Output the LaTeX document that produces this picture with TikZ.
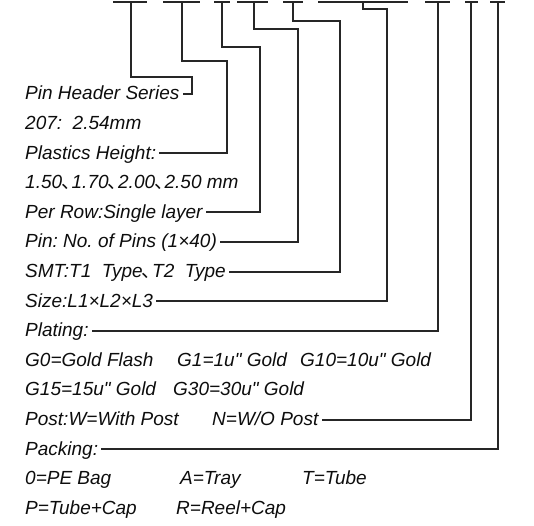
\documentclass[tikz,border=0pt]{standalone}
\usepackage{fontspec}
\setmainfont{Liberation Sans}[Ligatures=TeXOff]
\newfontfamily\cjk{Noto Sans CJK SC}
\newcommand{\dn}{\hbox to 0.5em{\hskip-0.04em{\cjk 、}\hss}}
\frenchspacing

\begin{document}
\begin{tikzpicture}[x=1pt, y=-1pt,
    lead/.style={draw=black!85, line width=2pt},
    lbl/.style={anchor=west, inner xsep=3pt, inner ysep=0pt, text height=13.6pt, text depth=2pt,
        text=black!95, font=\fontsize{19}{19}\selectfont\itshape}]
    \useasboundingbox (0,0) rectangle (534,525);

    % label rows
    \foreach \nm/\txt [count=\i] in {ser/{Pin Header Series}, pitch/{207:\ \ 2.54mm},
        plh/{Plastics Height:}, hts/{1.50\dn 1.70\dn 2.00\dn 2.50 mm},
        row/{Per Row:Single layer}, pin/{Pin: No. of Pins (1×40)},
        smt/{SMT:T1\ \ Type\dn T2\ \ Type}, size/{Size:L1×L2×L3}, plat/{Plating:},
        g0/{G0=Gold Flash}, g15/{G15=15u" Gold}, post/{Post:W=With Post},
        pack/{Packing:}, pe/{0=PE Bag}, ptc/{P=Tube+Cap}}
        \node[lbl] (\nm) at (22, {94+29.6*(\i-1)}) {\txt};

    \node[lbl] (g1) at (174, 360.4) {G1=1u" Gold};
    \node[lbl] (g10) at (297, 360.4) {G10=10u" Gold};
    \node[lbl] (g30) at (170, 390) {G30=30u" Gold};
    \node[lbl] (nopost) at (209, 419.6) {N=W/O Post};
    \node[lbl] (tray) at (177, 478.8) {A=Tray};
    \node[lbl] (tube) at (299, 478.8) {T=Tube};
    \node[lbl] (reel) at (173, 508.4) {R=Reel+Cap};

    % code bars
    \foreach \a/\b/\m [count=\i] in {113/147/131, 163/200/182, 214/230/222, 237/268/254,
        283/303/293, 318/408/363, 425/450/438, 465/478/471, 490/505/498} {
        \draw[lead] (\a,2) -- (\b,2);
        \coordinate (b\i) at (\m,2);
    }

    \coordinate (k1) at (192,77);
    \coordinate (k2) at (227,61);
    \coordinate (k3) at (260,47);
    \coordinate (k4) at (298,29);
    \coordinate (k5) at (340,21);
    \coordinate (k6) at (387,9);

    \draw[lead] (b1) |- (k1) |- (ser.east);
    \draw[lead] (b2) |- (k2) |- (plh.east);
    \draw[lead] (b3) |- (k3) |- (row.east);
    \draw[lead] (b4) |- (k4) |- (pin.east);
    \draw[lead] (b5) |- (k5) |- (smt.east);
    \draw[lead] (b6) |- (k6) |- (size.east);
    \draw[lead] (b7) |- (plat.east);
    \draw[lead] (b8) |- (nopost.east);
    \draw[lead] (b9) |- (pack.east);
\end{tikzpicture}
\end{document}
